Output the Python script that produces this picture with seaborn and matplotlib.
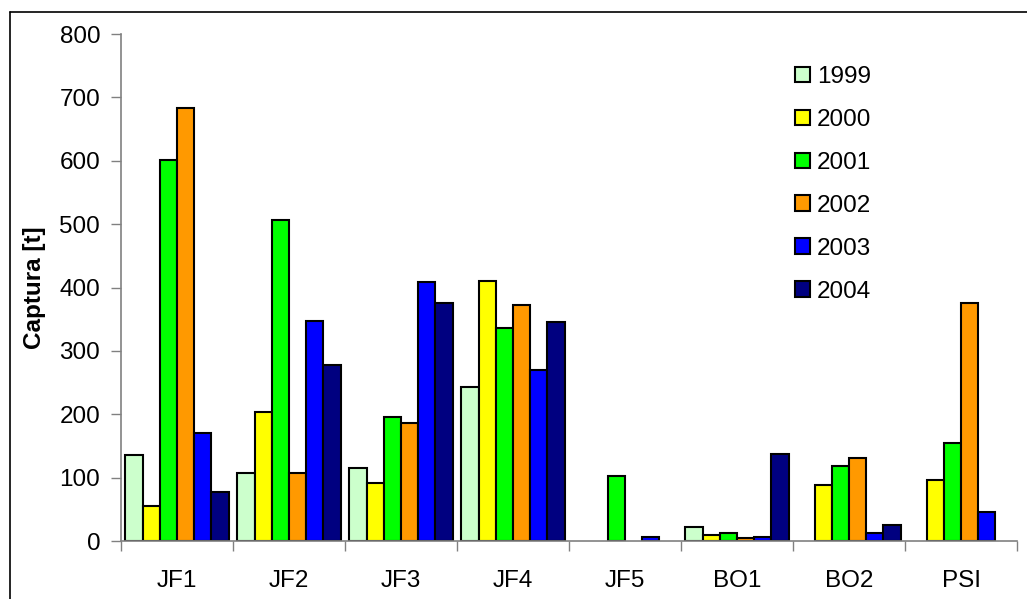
import numpy as np
import pandas as pd
import matplotlib
matplotlib.use("Agg")
import matplotlib.pyplot as plt
from matplotlib.lines import Line2D
from matplotlib.patches import Patch
import seaborn as sns

# Catch per zone and year (tonnes); NaN = no catch recorded
zones = ["JF1", "JF2", "JF3", "JF4", "JF5", "BO1", "BO2", "PSI"]
years = ["1999", "2000", "2001", "2002", "2003", "2004"]

catch_1999 = [135, 107, 115, 243, np.nan, 22, np.nan, np.nan]
catch_2000 = [55, 203, 92, 410, np.nan, 10, 89, 96]
catch_2001 = [601, 507, 196, 336, 102, 13, 118, 154]
catch_2002 = [684, 107, 186, 372, np.nan, 4, 131, 376]
catch_2003 = [171, 347, 408, 270, 6, 6, 12, 45]
catch_2004 = [78, 277, 376, 346, np.nan, 138, 26, np.nan]

year_colors = ["#CCFFCC", "#FFFF00", "#00FF00", "#FF9900", "#0000FF", "#000080"]

series = [catch_1999, catch_2000, catch_2001, catch_2002, catch_2003, catch_2004]
df = pd.DataFrame(
    [(z, y, v) for y, vals in zip(years, series) for z, v in zip(zones, vals)],
    columns=["zona", "ano", "captura"],
)

sns.set_theme(style="white")
plt.rcParams["font.family"] = ["Liberation Sans", "DejaVu Sans"]
plt.rcParams["text.color"] = "black"
plt.rcParams["axes.labelcolor"] = "black"
plt.rcParams["xtick.color"] = "black"
plt.rcParams["ytick.color"] = "black"

FS = 17.5
W, H = 1027, 599
fig = plt.figure(figsize=(W / 100, H / 100), dpi=100)
ax = fig.add_axes([121 / W, 1 - 541 / H, (1017 - 121) / W, (541 - 34) / H])

sns.barplot(
    data=df.dropna(), x="zona", y="captura", hue="ano",
    order=zones, hue_order=years, palette=year_colors,
    saturation=1, width=0.92, edgecolor="black", linewidth=1.5,
    errorbar=None, legend=False, ax=ax,
)

ax.set_xlim(-0.5, len(zones) - 0.5)
ax.set_ylim(0, 800)
ax.set_yticks(np.arange(0, 801, 100))

# Category labels between boundary ticks
ax.set_xticks(np.arange(-0.5, len(zones), 1.0))
ax.set_xticklabels([])
ax.set_xticks(np.arange(len(zones)), minor=True)
ax.set_xticklabels(zones, minor=True)
ax.tick_params(axis="x", which="major", direction="out", length=7, width=1,
               color="#808080", bottom=True)
ax.tick_params(axis="x", which="minor", length=0, pad=21, labelsize=FS,
               labelcolor="black")
ax.tick_params(axis="y", direction="out", length=7, width=1, color="#808080",
               left=True, pad=8, labelsize=FS, labelcolor="black")

for side in ["top", "right"]:
    ax.spines[side].set_visible(False)
for side in ["left", "bottom"]:
    ax.spines[side].set_color("#808080")
    ax.spines[side].set_linewidth(1.2)

ax.set_xlabel("")
ax.set_ylabel("Captura [t]", fontsize=FS, fontweight="bold", color="black")
ax.yaxis.set_label_coords(-0.084, 0.5)

handles = [Patch(facecolor=c, edgecolor="black", linewidth=1.5) for c in year_colors]
ax.legend(
    handles, years, loc="upper left",
    bbox_to_anchor=(795 / W, 1 - 66 / H), bbox_transform=fig.transFigure,
    frameon=False, fontsize=FS, handlelength=0.6, handleheight=0.6,
    handletextpad=0.3, labelspacing=0.86, borderaxespad=0, borderpad=0,
)

# Outer chart border (top and left edges)
fig.add_artist(Line2D([10 / W, 10 / W], [0, 1 - 12 / H], transform=fig.transFigure,
                      color="black", linewidth=1.2))
fig.add_artist(Line2D([10 / W, 1], [1 - 12 / H, 1 - 12 / H], transform=fig.transFigure,
                      color="black", linewidth=1.2))

fig.savefig("out.png", dpi=100)
